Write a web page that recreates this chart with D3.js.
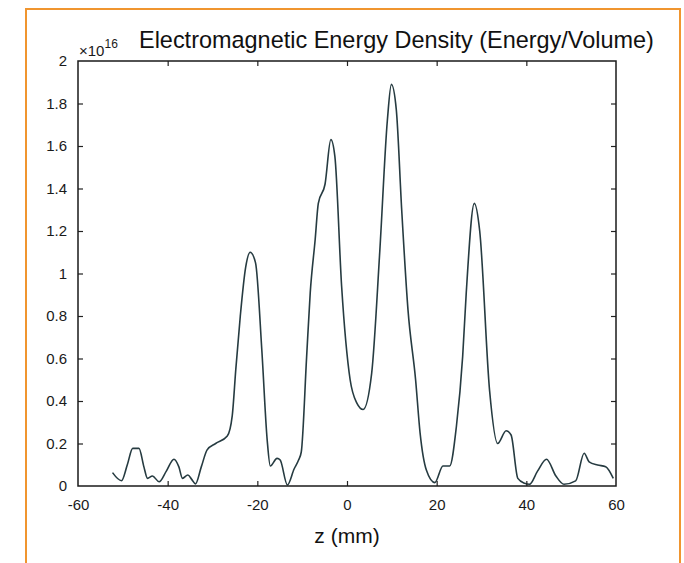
<!DOCTYPE html>
<html>
<head>
<meta charset="utf-8">
<script src="https://cdn.jsdelivr.net/npm/d3@7"></script>
<style>
  html, body { margin: 0; padding: 0; background: #fff; }
  svg { display: block; font-family: "Liberation Sans", Arial, Helvetica, sans-serif; }
</style>
</head>
<body>
<script>
// ---- data (z in mm, energy density in units of 1e16) ----
const zValues = [
  -52.3, -50.3, -49.0, -47.8, -46.4, -45.3, -44.5, -43.4, -41.9, -40.3,
  -38.6, -37.5, -36.7, -35.5, -34.6, -33.8, -32.5, -31.2, -29.3, -26.7,
  -25.6, -24.8, -23.8, -22.6, -21.6, -20.4, -19.0, -17.8, -17.1, -15.6,
  -14.9, -13.3, -11.8, -10.8, -10.2, -9.0, -8.2, -7.1, -6.4, -4.9,
  -3.6, -2.7, -1.2, 0.7, 2.2, 3.6, 5.5, 7.3, 9.0, 9.9,
  11.0, 12.2, 13.6, 15.3, 16.3, 17.7, 19.6, 21.4, 22.9, 24.4,
  25.8, 26.6, 28.4, 29.6, 31.8, 33.6, 35.5, 36.6, 38.1, 39.6,
  40.7, 42.5, 44.5, 46.6, 48.4, 51.0, 52.9, 54.0, 55.9, 57.7, 59.4
];
const energyValues = [
  0.063, 0.025, 0.10, 0.177, 0.177, 0.09, 0.036, 0.047, 0.02, 0.07,
  0.126, 0.09, 0.036, 0.052, 0.03, 0.01, 0.09, 0.17, 0.20, 0.235,
  0.33, 0.55, 0.80, 1.03, 1.10, 1.05, 0.64, 0.216, 0.094, 0.13,
  0.122, 0.005, 0.08, 0.122, 0.16, 0.61, 0.91, 1.16, 1.33, 1.42,
  1.63, 1.55, 0.94, 0.50, 0.39, 0.36, 0.53, 1.10, 1.72, 1.89,
  1.77, 1.30, 0.83, 0.50, 0.25, 0.075, 0.016, 0.094, 0.094, 0.28,
  0.61, 0.91, 1.33, 1.20, 0.45, 0.20, 0.26, 0.24, 0.036, 0.013,
  0.008, 0.07, 0.126, 0.047, 0.008, 0.024, 0.154, 0.114, 0.099, 0.091, 0.036
];
const xTicks = [-60, -40, -20, 0, 20, 40, 60];
const xTickLabels = ["-60", "-40", "-20", "0", "20", "40", "60"];
const yTicks = [0, 0.2, 0.4, 0.6, 0.8, 1, 1.2, 1.4, 1.6, 1.8, 2];
const yTickLabels = ["0", "0.2", "0.4", "0.6", "0.8", "1", "1.2", "1.4", "1.6", "1.8", "2"];
const titleText = "Electromagnetic Energy Density (Energy/Volume)";
const xLabelText = "z (mm)";
const exponentText = "16";

// ---- layout ----
const W = 684, H = 563;
const L = 78, R = 616, T = 61, B = 486;

const svg = d3.select("body").append("svg").attr("width", W).attr("height", H);

// orange frame (open at the bottom, cropped)
svg.append("path")
  .attr("d", `M26,${H + 5} L26,9 L680,9 L680,${H + 5}`)
  .attr("fill", "none").attr("stroke", "#f0952f").attr("stroke-width", 2);

const x = d3.scaleLinear().domain([-60, 60]).range([L, R]);
const y = d3.scaleLinear().domain([0, 2]).range([B, T]);

const data = zValues.map((z, i) => ({ z, v: energyValues[i] }));

// curve
svg.append("path")
  .datum(data)
  .attr("fill", "none")
  .attr("stroke", "#263b41")
  .attr("stroke-width", 1.6)
  .attr("stroke-linejoin", "round")
  .attr("d", d3.line().x(d => x(d.z)).y(d => y(d.v)).curve(d3.curveMonotoneX));

const tickLen = 5;
const fontSize = 15;

// bottom axis
const xb = svg.append("g").attr("transform", `translate(0,${B})`)
  .call(d3.axisBottom(x).tickValues(xTicks).tickSize(-tickLen).tickPadding(tickLen + 8)
    .tickFormat((d, i) => xTickLabels[i]));
// top axis (ticks only)
const xt = svg.append("g").attr("transform", `translate(0,${T})`)
  .call(d3.axisTop(x).tickValues(xTicks).tickSize(-tickLen).tickFormat(""));
// left axis
const yl = svg.append("g").attr("transform", `translate(${L},0)`)
  .call(d3.axisLeft(y).tickValues(yTicks).tickSize(-tickLen).tickPadding(tickLen + 6)
    .tickFormat((d, i) => yTickLabels[i]));
// right axis (ticks only)
const yr = svg.append("g").attr("transform", `translate(${R},0)`)
  .call(d3.axisRight(y).tickValues(yTicks).tickSize(-tickLen).tickFormat(""));

[xb, xt, yl, yr].forEach(g => {
  g.select(".domain").remove();
  g.selectAll(".tick line").attr("stroke", "#222").attr("stroke-width", 1.2);
  g.selectAll("text").attr("fill", "#1a1a1a").style("font-size", fontSize + "px")
    .style("font-family", '"Liberation Sans", Arial, sans-serif');
});
// remove end ticks overlapping the box
xt.selectAll(".tick").filter(d => d === -60 || d === 60).select("line").remove();
xb.selectAll(".tick").filter(d => d === -60 || d === 60).select("line").remove();
yl.selectAll(".tick").filter(d => d === 0 || d === 2).select("line").remove();
yr.selectAll(".tick").filter(d => d === 0 || d === 2).select("line").remove();

// box
svg.append("rect")
  .attr("x", L).attr("y", T).attr("width", R - L).attr("height", B - T)
  .attr("fill", "none").attr("stroke", "#1a1a1a").attr("stroke-width", 1.5);

// exponent label
const ex = svg.append("text").attr("x", L + 1).attr("y", T - 5)
  .attr("fill", "#1a1a1a").attr("font-size", 15);
ex.append("tspan").attr("font-size", 15).style("font-size", "15px").text("\u00d710");
ex.append("tspan").attr("dy", -8).attr("font-size", 12).style("font-size", "12px").text(exponentText);

// title
const title = svg.append("text").attr("x", 139).attr("y", 48)
  .attr("fill", "#111").style("font-size", "23px").text(titleText);
const tw = title.node().getComputedTextLength();
title.style("font-size", (23 * 515 / tw).toFixed(2) + "px");

// x label
svg.append("text").attr("x", x(0)).attr("y", 543).attr("text-anchor", "middle")
  .attr("fill", "#111").style("font-size", "21px").text(xLabelText);
</script>
</body>
</html>
